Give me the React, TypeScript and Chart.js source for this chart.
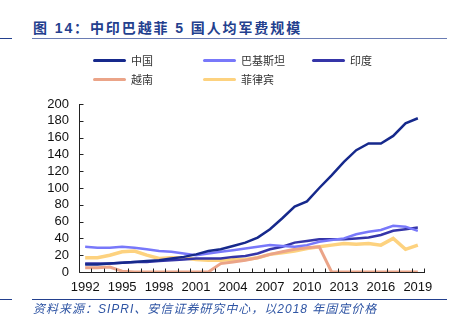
import React, { useEffect, useRef } from "react";
import { Chart, registerables } from "chart.js";

Chart.register(...registerables);

const years = [
  "1992", "1993", "1994", "1995", "1996", "1997", "1998", "1999", "2000", "2001",
  "2002", "2003", "2004", "2005", "2006", "2007", "2008", "2009", "2010", "2011",
  "2012", "2013", "2014", "2015", "2016", "2017", "2018", "2019",
];

const china = [9, 9, 10, 11, 12, 13, 14, 16, 18, 21, 25, 27, 31, 35, 41, 51, 64, 78, 84, 100, 115, 131, 145, 153, 153, 162, 177, 183];
const pakistan = [30, 29, 29, 30, 29, 27, 25, 24, 22, 20, 22, 24, 26, 28, 30, 32, 31, 30, 32, 36, 38, 40, 45, 48, 50, 55, 54, 49];
const india = [10, 10, 10, 11, 12, 12, 13, 14, 15, 16, 16, 16, 18, 19, 22, 27, 30, 35, 37, 39, 39, 39, 40, 41, 44, 49, 51, 53];
const vietnam = [5, 5, 6, 1, 0, 0, 0, 0, 0, 0, 0, 10, 12, 14, 17, 21, 24, 27, 29, 30, 0, 0, 0, 0, 0, 0, 0, 0];
const philippines = [17, 17, 20, 24, 25, 20, 16, 17, 17, 15, 14, 14, 15, 15, 17, 21, 23, 25, 28, 30, 32, 34, 33, 34, 32, 40, 27, 32];

const yTicks = [0, 20, 40, 60, 80, 100, 120, 140, 160, 180, 200];

const seriesNames = ["中国", "巴基斯坦", "印度", "越南", "菲律宾"];
const seriesColors = ["#16298C", "#7878FA", "#3535A8", "#EBA488", "#FDD27F"];
const seriesWidths = [2.5, 2.5, 2.5, 3, 3.5];
const seriesData = [china, pakistan, india, vietnam, philippines];

const W = 461;
const H = 329;

const axisPlugin = {
  id: "axisPlugin",
  afterDraw(chart: any) {
    const { ctx, chartArea, scales } = chart;
    const xs = scales.x;
    const ys = scales.y;
    const left = Math.round(chartArea.left) + 0.5;
    const bottom = Math.round(chartArea.bottom) + 0.5;
    ctx.save();
    ctx.strokeStyle = "#222";
    ctx.lineWidth = 1;
    ctx.beginPath();
    ctx.moveTo(left, Math.round(chartArea.top));
    ctx.lineTo(left, bottom);
    ctx.lineTo(Math.round(chartArea.right) + 1, bottom);
    const n = chart.data.labels.length;
    for (let i = 0; i <= n; i++) {
      const px = Math.round(xs.getPixelForValue(i - 0.5)) + 0.5;
      ctx.moveTo(px, bottom);
      ctx.lineTo(px, bottom - 4);
    }
    for (const v of yTicks) {
      const py = Math.round(ys.getPixelForValue(v)) + 0.5;
      ctx.moveTo(left, py);
      ctx.lineTo(left + 4, py);
    }
    ctx.stroke();
    ctx.restore();
  },
};

function ChartCanvas() {
  const ref = useRef<HTMLCanvasElement | null>(null);
  useEffect(() => {
    if (!ref.current) return;
    const chart = new Chart(ref.current, {
      type: "line",
      data: {
        labels: years,
        datasets: seriesNames.map((name, i) => ({
          label: name,
          data: seriesData[i],
          borderColor: seriesColors[i],
          backgroundColor: seriesColors[i],
          borderWidth: seriesWidths[i],
          pointRadius: 0,
          tension: 0,
          fill: false,
        })),
      },
      options: {
        responsive: false,
        animation: false,
        devicePixelRatio: 1,
        layout: { padding: { left: 0, right: 37, top: 104, bottom: 0 } },
        plugins: {
          legend: { display: false },
          title: { display: false },
          tooltip: { enabled: false },
        },
        scales: {
          x: {
            type: "category",
            offset: true,
            grid: { display: false, drawTicks: false },
            border: { display: false },
            ticks: {
              autoSkip: false,
              maxRotation: 0,
              minRotation: 0,
              padding: 8,
              color: "#111",
              font: { family: "'Liberation Sans', Arial, sans-serif", size: 13 },
              callback: (_v: any, idx: number) => (idx % 3 === 0 ? years[idx] : ""),
            },
            afterFit: (scale: any) => {
              scale.height = 57;
            },
          },
          y: {
            min: 0,
            max: 200,
            grid: { display: false, drawTicks: false },
            border: { display: false },
            afterBuildTicks: (scale: any) => {
              scale.ticks = yTicks.map((v) => ({ value: v }));
            },
            ticks: {
              autoSkip: false,
              padding: 10,
              color: "#111",
              font: { family: "'Liberation Sans', Arial, sans-serif", size: 13 },
            },
            afterFit: (scale: any) => {
              scale.width = 79;
            },
          },
        },
      },
      plugins: [axisPlugin],
    } as any);
    return () => chart.destroy();
  }, []);
  return (
    <canvas
      ref={ref}
      width={W}
      height={H}
      style={{ position: "absolute", left: 0, top: 0, width: W, height: H }}
    />
  );
}

const legendLayout = [
  { x: 93, y: 60 },
  { x: 203, y: 60 },
  { x: 312, y: 60 },
  { x: 93, y: 79 },
  { x: 203, y: 79 },
];

export default function App() {
  const cjk = "'Noto Sans CJK SC', 'Liberation Sans', sans-serif";
  return (
    <div
      style={{
        position: "fixed",
        left: 0,
        top: 0,
        width: W,
        height: H,
        background: "#fff",
        overflow: "hidden",
        fontFamily: cjk,
      }}
    >
      <div
        style={{
          position: "absolute",
          left: 33,
          top: 18,
          fontSize: 14,
          fontWeight: 700,
          letterSpacing: 1.9,
          color: "#23408E",
          lineHeight: "20px",
          whiteSpace: "nowrap",
          fontFamily: "'Liberation Sans', 'Noto Sans CJK SC', sans-serif",
        }}
      >
        图 14：中印巴越菲 5 国人均军费规模
      </div>
      <div style={{ position: "absolute", left: 0, top: 38, width: 12, height: 1, background: "#23408E" }} />
      <div style={{ position: "absolute", left: 32, top: 38, width: 415, height: 1, background: "#6A7CB4" }} />
      <ChartCanvas />
      {seriesNames.map((name, i) => (
        <div
          key={name}
          style={{
            position: "absolute",
            left: legendLayout[i].x,
            top: legendLayout[i].y - 8,
            height: 16,
            display: "flex",
            alignItems: "center",
            whiteSpace: "nowrap",
          }}
        >
          <span
            style={{
              display: "inline-block",
              width: 33,
              height: 3,
              borderRadius: 1.5,
              background: seriesColors[i],
            }}
          />
          <span style={{ marginLeft: 5, fontSize: 11, color: "#333", lineHeight: "16px" }}>{name}</span>
        </div>
      ))}
      <div style={{ position: "absolute", left: 0, top: 299, width: 12, height: 1, background: "#23408E" }} />
      <div style={{ position: "absolute", left: 32, top: 299, width: 415, height: 1, background: "#23408E" }} />
      <div
        style={{
          position: "absolute",
          left: 33,
          top: 301,
          fontSize: 12,
          fontStyle: "italic",
          letterSpacing: 1,
          color: "#2F55A4",
          lineHeight: "17px",
          whiteSpace: "nowrap",
          fontFamily: "'Liberation Sans', 'Noto Sans CJK SC', sans-serif",
        }}
      >
        资料来源：SIPRI、安信证券研究中心，以2018 年固定价格
      </div>
    </div>
  );
}
